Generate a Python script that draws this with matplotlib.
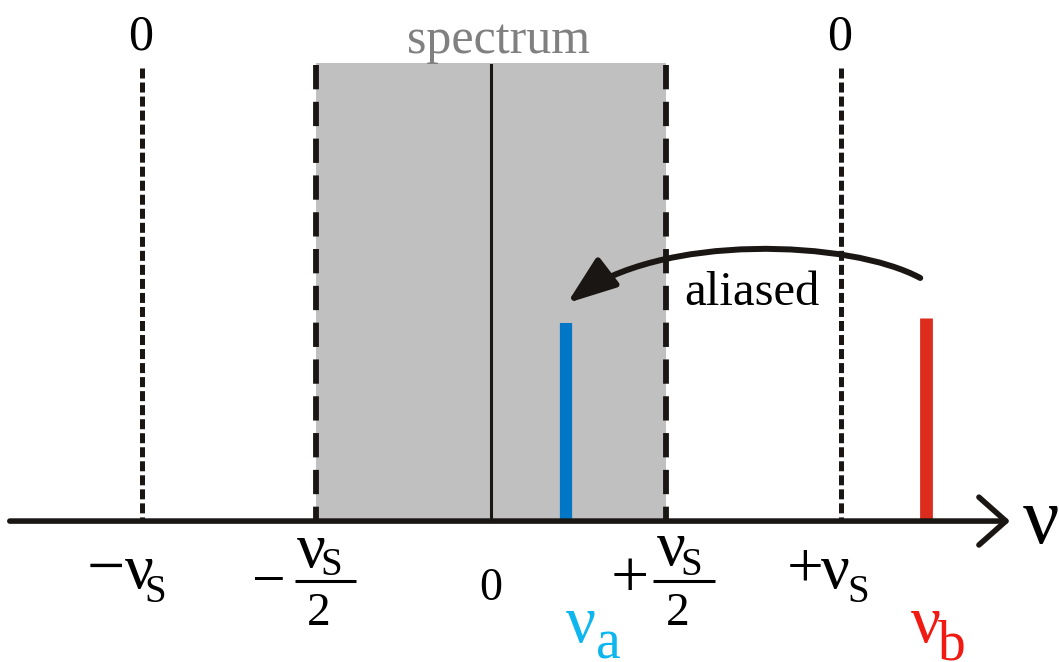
import matplotlib
matplotlib.use('Agg')
import matplotlib.pyplot as plt
from matplotlib.patches import FancyArrowPatch
from matplotlib.path import Path

plt.rcParams['font.family'] = 'Liberation Serif'
plt.rcParams['lines.scale_dashes'] = False
SERIF = 'Liberation Serif'

# frequencies in units of the sampling frequency nu_S
nu_s = 1.0
tick_pos = [-1.0, -0.5, 0.0, 0.5, 1.0]
spectrum_height = 1.0
nu_a, amp_a = 0.215, 0.434     # aliased (blue) line
nu_b, amp_b = 1.245, 0.445     # true (red) line

NU = '\u03bd'
MINUS = '\u2212'

fig = plt.figure(figsize=(10.59, 6.62), dpi=100)
ax = fig.add_axes([0, 0, 1, 1])
xlim = (-1.405, 1.625)
ylim = (-0.309, 1.1425)
ax.set_xlim(*xlim)
ax.set_ylim(*ylim)
ax.axis('off')
px_x = 1059 / (xlim[1] - xlim[0])   # pixels per data unit
px_y = 662 / (ylim[1] - ylim[0])

# grey spectrum band (Nyquist interval)
ax.bar(0, spectrum_height, width=nu_s, bottom=0.004, color='#c0c0c0', zorder=1)

# dashed lines at +-nu_s/2, dotted at +-nu_s, solid at 0
for x in [-nu_s / 2, nu_s / 2]:
    ax.plot([x, x], [spectrum_height, 0], color='#1a1614', lw=4.2,
            linestyle=(0, (17.5, 9.0)), zorder=2)
for x in [-nu_s, nu_s]:
    ax.plot([x, x], [0.993 * spectrum_height, 0], color='#1a1614', lw=3.6,
            linestyle=(0, (7.2, 2.9)), zorder=2)
ax.plot([0, 0], [spectrum_height, 0], color='#1a1614', lw=2.2, zorder=2)

# signal lines
ax.vlines(nu_a, 0, amp_a, color='#0077c6', lw=8.8, zorder=3)
ax.vlines(nu_b, 0, amp_b, color='#dc2c1d', lw=9.2, zorder=3)

# frequency axis with open arrow head
axis_start, axis_end = -1.377, 1.485
ax.annotate('', xy=(axis_end, 0), xytext=(axis_start, 0),
            arrowprops=dict(arrowstyle='->,head_length=0.97,head_width=0.86',
                            lw=4.0, color='#1a1614', mutation_scale=20,
                            shrinkA=0, shrinkB=0), zorder=4)


def put(x, dx, dy, s, size, color='black', ha='center', y=0):
    ax.annotate(s, (x, y), xytext=(dx, dy), textcoords='offset pixels',
                ha=ha, va='baseline', fontsize=size, color=color,
                fontfamily=SERIF)


def frac_bar(x, dx1, dx2, dy):
    ax.plot([x + dx1 / px_x, x + dx2 / px_x], [dy / px_y, dy / px_y],
            color='black', lw=2.2, solid_capstyle='butt')


# -nu_S
put(tick_pos[0], -36, -67, MINUS, 49)
put(tick_pos[0], -2, -67, NU, 46)
put(tick_pos[0], 14, -81, 'S', 28)
# -nu_S/2
put(tick_pos[1], -48, -77, MINUS, 43)
put(tick_pos[1], -5, -46, NU, 46)
put(tick_pos[1], 15, -54, 'S', 28)
frac_bar(tick_pos[1], -21, 40, -60)
put(tick_pos[1], 2, -104, '2', 34)
# 0
put(tick_pos[2], 0, -79, '0', 33)
# +nu_S/2
put(tick_pos[3], -36, -76, '+', 49)
put(tick_pos[3], 6, -44, NU, 46)
put(tick_pos[3], 25, -54, 'S', 28)
frac_bar(tick_pos[3], -13, 49, -60)
put(tick_pos[3], 12, -104, '2', 34)
# +nu_S
put(tick_pos[4], -35, -65, '+', 47)
put(tick_pos[4], -5, -67, NU, 46)
put(tick_pos[4], 18, -81, 'S', 28)

# nu_a and nu_b
put(nu_a, 15, -121, NU, 48, color='#0db6ee')
put(nu_a, 42, -137, 'a', 40, color='#0db6ee')
put(nu_b, 0, -121, NU, 48, color='#f01a12')
put(nu_b, 26, -138, 'b', 40, color='#f01a12')

# axis label
put(axis_end, 13, -22, NU, 58, ha='left')

# top zeros and spectrum label
for x in [-nu_s, nu_s]:
    put(x, -1, 0, '0', 36, y=1.033)
put(0, 7, 0, 'spectrum', 36, color='#808080', y=1.026)

# aliasing arrow: curved from the red line back into the band
ax.text(0.747, 0.474, 'aliased', fontsize=35, ha='center', va='baseline',
        fontfamily=SERIF)
arrow_path = Path([(1.228, 0.533), (1.028, 0.616), (0.484, 0.634), (0.218, 0.478)],
                  [Path.MOVETO, Path.CURVE4, Path.CURVE4, Path.CURVE4])
arrow = FancyArrowPatch(path=arrow_path,
                        arrowstyle='-|>,head_length=1.5,head_width=0.55',
                        mutation_scale=20, lw=4.3, color='#1a1614', zorder=5)
ax.add_patch(arrow)

fig.savefig('out.png', dpi=100, facecolor='white')
